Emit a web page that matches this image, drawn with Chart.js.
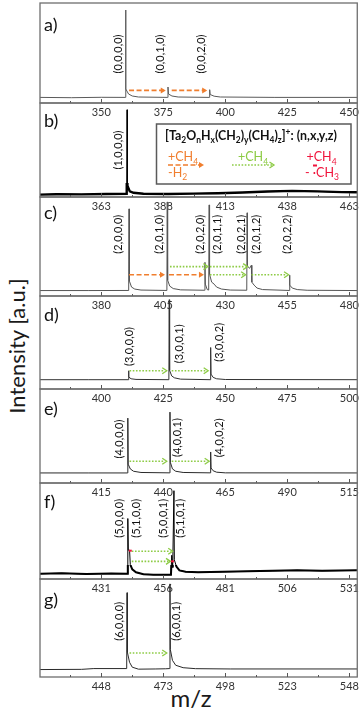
<!DOCTYPE html>
<html>
<head>
<meta charset="utf-8">
<script src="https://cdn.jsdelivr.net/npm/chart.js@4.4.1/dist/chart.umd.min.js"></script>
<style>
  html, body { margin: 0; padding: 0; background: #fff; }
  #wrap { position: relative; width: 362px; height: 714px; overflow: hidden; background: #fff; }
  #wrap canvas { position: absolute; left: 0; }
  .title { position: absolute; font-family: Lato, sans-serif; color: #1a1a1a; white-space: nowrap; line-height: 1; }
  #ytitle { left: 17px; top: 346px; font-size: 22px; transform: translate(-50%, -50%) rotate(-90deg); }
  #xtitle { left: 191px; top: 686px; font-size: 24px; transform: translateX(-50%); }
</style>
</head>
<body>
<div id="wrap">
  <div id="ytitle" class="title">Intensity [a.u.]</div>
  <div id="xtitle" class="title">m/z</div>
</div>
<script>
// --- données (m/z, intensité en % de la hauteur du panneau) ---
const panelNames = ['a)', 'b)', 'c)', 'd)', 'e)', 'f)', 'g)'];

const ticksA = [350, 375, 400, 425, 450];
const ticksB = [363, 388, 413, 438, 463];
const ticksC = [380, 405, 430, 455, 480];
const ticksD = [400, 425, 450, 475, 500];
const ticksE = [415, 440, 465, 490, 515];
const ticksF = [431, 456, 481, 506, 531];
const ticksG = [448, 473, 498, 523, 548];

const xMins = [325.3, 338.3, 355.3, 375.3, 390.3, 406.3, 423.3];
const xMaxs = [453.2, 466.2, 483.2, 503.2, 518.2, 534.2, 551.2];

const specA = [[325.3,5.6],[338,5.3],[350,5.7],[359.65,5.6],[359.8,93],[359.95,14],[361,9],[362.5,7],[365,6],[376.75,5.6],[376.9,16],[377.1,9],[378.5,7],[381,6],[393.55,5.6],[393.7,13.3],[393.9,8.5],[395.5,6.8],[398,6],[420,5.6],[453.2,5.6]];
const specB = [[338.3,2.5],[345,3],[355,2.8],[365,3.2],[373.25,3.5],[373.4,92.8],[373.55,12],[374.5,6],[376,4.5],[380,3.5],[390,3.2],[400,3.6],[410,4],[420,4.8],[430,5.8],[440,6.5],[450,6],[460,5.2],[466.2,5]];
const specC = [[355.3,5.5],[375,5.5],[391.05,5.6],[391.2,88],[391.35,15],[392.2,9],[393.5,7],[396,6],[406.45,5.6],[406.6,95],[406.75,16],[407.6,10],[409,7.5],[412,6.2],[421.65,5.8],[421.8,34],[421.95,12],[422.7,6.5],[423.3,6],[423.5,92],[423.65,22],[424.5,14],[425.5,12],[426.5,9],[428.5,7],[432,6],[438.65,5.8],[438.8,84],[438.95,30],[439.8,28],[440.5,31],[440.7,14],[441.6,11],[442.8,8],[445,6.5],[455.75,5.6],[455.9,21],[456.05,11],[457,8],[459,6.5],[463,5.8],[483.2,5.5]];
const specD = [[375.3,10],[395,10],[410.85,10],[411.0,19.6],[411.15,13],[412,11],[414,10.3],[427.25,10],[427.4,96],[427.55,20],[428.4,14],[429.5,12],[432,10.6],[443.95,10],[444.1,44.6],[444.25,16],[445.1,12.5],[446.5,11],[450,10.2],[503.2,10]];
const specE = [[390.3,10.7],[410,10.7],[425.55,10.7],[425.7,69],[425.85,20],[426.7,15],[428,12.5],[431,11.2],[442.55,10.8],[442.7,75.4],[442.85,22],[443.7,15],[445,12.5],[448,11.2],[458.95,10.8],[459.1,33],[459.25,16],[460.1,13],[461.5,11.5],[465,10.8],[518.2,10.7]];
const specF = [[406.3,5.5],[415,6],[425,5.2],[435,5.8],[441.55,5.5],[441.7,63],[441.9,30],[442.4,30],[442.7,15],[443.5,10],[445,7],[448,5],[452,4.5],[459.1,4.5],[459.4,24.7],[459.8,12],[460.3,92],[460.45,20],[461.3,13],[462.5,9],[465,7.5],[470,7],[480,7.5],[490,8],[500,8.5],[510,9],[520,8.5],[534.2,9]];
const specG = [[423.3,7.6],[440,7.8],[445,8.6],[458.25,8.6],[458.4,86],[458.55,25],[459.4,15],[460.5,10],[463,8],[470,8.2],[474,8.4],[475.55,8.6],[475.7,95],[475.85,28],[476.7,17],[478,12],[481,9.5],[486,8.5],[500,8.2],[551.2,8.2]];

// étiquettes des pics: [texte, m/z du centre, hauteur %]
const labA = [['(0,0,0,0)',356.9,49],['(0,0,1,0)',374.0,49],['(0,0,2,0)',390.4,49]];
const labB = [['(1,0,0,0)',369.9,50]];
const labC = [['(2,0,0,0)',387.1,62.4],['(2,0,1,0)',403.5,62.4],['(2,0,2,0)',420.1,62.4],['(2,0,1,1)',426.9,62.4],['(2,0,2,1)',436.5,62.4],['(2,0,1,2)',442.5,62.4],['(2,0,2,2)',454.9,62.4]];
const labD = [['(3,0,0,0)',411.4,45.7],['(3,0,0,1)',431.7,48.6],['(3,0,0,2)',447.8,50.2]];
const labE = [['(4,0,0,0)',422.3,46.8],['(4,0,0,1)',445.8,48.4],['(4,0,0,2)',462.8,48]];
const labF = [['(5,0,0,0)',438.2,63.2],['(5,1,0,0)',445.3,63.2],['(5,0,0,1)',456.1,63.2],['(5,1,0,1)',463.1,63.2]];
const labG = [['(6,0,0,0)',455.2,56.8],['(6,0,0,1)',478.4,56.8]];

// flèches: [type, m/z début, m/z fin, hauteur %]  o = +CH4 -H2, g = +CH4
const arrA = [['o',361.2,376.0,12.6],['o',378.4,392.7,12.6]];
const arrB = [];
const arrC = [['o',391.2,405.7,21.5],['o',407.3,421.4,21.5],['g',407.7,423.0,29.7],['g',423.8,439.0,29.7],['g',423.8,438.2,21.5],['g',440.6,455.5,21.5]];
const arrD = [['g',411.4,426.4,19.6],['g',428.4,443.1,19.6]];
const arrE = [['g',426.4,441.4,23.2],['g',443.4,458.5,23.2]];
const arrF = [['g',443.3,459.8,28.9],['g',443.3,458.9,18.4]];
const arrG = [['g',459.4,474.4,24.5]];

// marques rouges (+CH4 - ·CH3) dans f)
const redF = [[442.1,443.3,29.5],[459.1,460.3,18.4]];

// --- mise en page ---
const edges = [3, 103, 197, 296, 389, 483, 579, 677];
const letterY = [22, 18, 16, 19, 20, 19, 21];
const lineColors = ['#5a5a5a', '#000', '#555', '#333', '#2a2a2a', '#000', '#2a2a2a'];
const noiseWidths = [0, 2.4, 0, 0, 0, 2, 0];  // fond bruité épais (b, f)
const noiseBand = 14;                          // hauteur en px de la bande épaisse

const ORANGE = '#F07E2E';
const GREEN = '#8DCB45';
const RED = '#F0143C';

const tickLists = [ticksA, ticksB, ticksC, ticksD, ticksE, ticksF, ticksG];
const specs = [specA, specB, specC, specD, specE, specF, specG];
const labels = [labA, labB, labC, labD, labE, labF, labG];
const arrows = [arrA, arrB, arrC, arrD, arrE, arrF, arrG];

function vText(ctx, txt, x, y) {
    ctx.save();
    ctx.translate(x, y);
    ctx.rotate(-Math.PI / 2);
    ctx.textAlign = 'center';
    ctx.textBaseline = 'middle';
    ctx.font = '11px Lato';
    ctx.fillStyle = '#111';
    ctx.fillText(txt, 0, 0);
    ctx.restore();
}

function drawArrow(ctx, x1, x2, y, kind) {
    const col = kind === 'o' ? ORANGE : GREEN;
    ctx.save();
    ctx.strokeStyle = col;
    ctx.fillStyle = col;
    ctx.lineWidth = 1.6;
    ctx.setLineDash(kind === 'o' ? [5, 2.5] : [1.6, 1.6]);
    ctx.beginPath();
    ctx.moveTo(x1, y);
    ctx.lineTo(x2 - 2, y);
    ctx.stroke();
    ctx.setLineDash([]);
    ctx.beginPath();
    if (kind === 'o') {
        ctx.moveTo(x2, y); ctx.lineTo(x2 - 5, y - 3); ctx.lineTo(x2 - 5, y + 3); ctx.closePath(); ctx.fill();
    } else {
        ctx.lineWidth = 1.3;
        ctx.moveTo(x2 - 4.5, y - 3); ctx.lineTo(x2, y); ctx.lineTo(x2 - 4.5, y + 3); ctx.stroke();
    }
    ctx.restore();
}

// texte avec indices / exposants
function richText(ctx, runs, x, y, size, weight, color) {
    let cx = x;
    ctx.fillStyle = color;
    ctx.textAlign = 'left';
    ctx.textBaseline = 'alphabetic';
    runs.forEach(([t, mode]) => {
        const fs = mode ? size * 0.68 : size;
        ctx.font = `${weight} ${fs}px Lato`;
        const dy = mode === 'sub' ? size * 0.28 : mode === 'sup' ? -size * 0.4 : 0;
        ctx.fillText(t, cx, y + dy);
        cx += ctx.measureText(t).width;
    });
    return cx - x;
}

function measureRuns(ctx, runs, size, weight) {
    let w = 0;
    runs.forEach(([t, mode]) => {
        ctx.font = `${weight} ${mode ? size * 0.68 : size}px Lato`;
        w += ctx.measureText(t).width;
    });
    return w;
}

const legendTitle = [['[Ta',''],['2','sub'],['O',''],['n','sub'],['H',''],['x','sub'],['(CH',''],['2','sub'],[')',''],['y','sub'],['(CH',''],['4','sub'],[')',''],['z','sub'],[']',''],['+','sup'],[': (n,x,y,z)','']];
const plusCH4 = [['+CH',''],['4','sub']];
const minusH2 = [['-H',''],['2','sub']];
const minusCH3 = [['- ·CH',''],['3','sub']];

function drawLegend(ctx, offY) {
    ctx.save();
    ctx.translate(0, -offY);
    ctx.fillStyle = '#fff';
    ctx.fillRect(156.5, 124, 194.5, 60);
    ctx.strokeStyle = '#5a5a5a';
    ctx.lineWidth = 1.5;
    ctx.strokeRect(156.5, 124, 194.5, 60);
    const w12 = measureRuns(ctx, legendTitle, 12, 'bold');
    richText(ctx, legendTitle, 165, 140, 12 * 172 / w12, 'bold', '#111');
    richText(ctx, plusCH4, 168, 161, 12.5, 'normal', ORANGE);
    drawArrow(ctx, 168, 204, 165, 'o');
    richText(ctx, minusH2, 168, 176.5, 12.5, 'normal', ORANGE);
    richText(ctx, plusCH4, 238, 161, 12.5, 'normal', GREEN);
    drawArrow(ctx, 232, 274, 165, 'g');
    richText(ctx, plusCH4, 306.5, 161, 12.5, 'normal', RED);
    ctx.fillStyle = RED;
    ctx.fillRect(313, 164.5, 4, 2);
    richText(ctx, minusCH3, 305, 176.5, 12.5, 'normal', RED);
    ctx.restore();
}

function decor(i, canvasTop) {
    return {
        id: 'decor' + i,
        afterDatasetsDraw(chart) {
            const ctx = chart.ctx;
            const ca = chart.chartArea;
            const xs = chart.scales.x;
            const ys = chart.scales.y;
            ctx.save();
            // cadre
            ctx.strokeStyle = '#6e6e6e';
            ctx.lineWidth = 1.3;
            ctx.strokeRect(ca.left, ca.top, ca.right - ca.left, ca.bottom - ca.top);
            // graduations vers l'intérieur
            ctx.lineWidth = 1;
            ctx.strokeStyle = '#555';
            tickLists[i].forEach(v => {
                [v - 12.5, v, v + 12.5].forEach((t, k) => {
                    if (t <= xMins[i] || t >= xMaxs[i]) return;
                    const px = Math.round(xs.getPixelForValue(t)) + 0.5;
                    ctx.beginPath();
                    ctx.moveTo(px, ca.bottom);
                    ctx.lineTo(px, ca.bottom - (k === 1 ? 4 : 2));
                    ctx.stroke();
                });
            });
            // lettre du panneau
            ctx.fillStyle = '#111';
            ctx.font = '18px Lato';
            ctx.textAlign = 'left';
            ctx.textBaseline = 'middle';
            ctx.fillText(panelNames[i], 44, ca.top + letterY[i]);
            // flèches
            arrows[i].forEach(([kind, x1, x2, y]) => {
                drawArrow(ctx, xs.getPixelForValue(x1), xs.getPixelForValue(x2), ys.getPixelForValue(y), kind);
            });
            if (i === 5) {
                ctx.fillStyle = RED;
                redF.forEach(([x1, x2, y]) => {
                    const a = xs.getPixelForValue(x1), b = xs.getPixelForValue(x2);
                    ctx.fillRect(a, ys.getPixelForValue(y) - 1, b - a, 2);
                });
            }
            // étiquettes des pics
            labels[i].forEach(([t, x, y]) => vText(ctx, t, xs.getPixelForValue(x), ys.getPixelForValue(y)));
            if (i === 1) drawLegend(ctx, canvasTop);
            ctx.restore();
        }
    };
}

Chart.defaults.font.family = 'Lato';
const wrap = document.getElementById('wrap');

specs.forEach((spec, i) => {
    const top = edges[i] - 2;
    const panelH = edges[i + 1] - edges[i];
    const h = panelH + 2 + 16;
    const cv = document.createElement('canvas');
    cv.width = 362;
    cv.height = h;
    cv.style.top = top + 'px';
    wrap.appendChild(cv);

    const pts = spec.map(p => ({ x: p[0], y: p[1] }));
    const datasets = [{
        data: pts,
        borderColor: lineColors[i],
        borderWidth: 1,
        pointRadius: 0,
        tension: 0,
        fill: false
    }];
    // même spectre, trait épais limité au bas du panneau (bruit de fond)
    if (noiseWidths[i]) {
        datasets.push({
            data: pts,
            borderColor: lineColors[i],
            borderWidth: noiseWidths[i],
            pointRadius: 0,
            tension: 0,
            fill: false,
            clip: { left: 0, right: 0, bottom: 0, top: -(panelH - noiseBand) }
        });
    }

    new Chart(cv.getContext('2d'), {
        type: 'line',
        data: { datasets },
        options: {
            responsive: false,
            animation: false,
            events: [],
            layout: { padding: { left: 40, right: 4, top: 2, bottom: 0 } },
            plugins: { legend: { display: false }, tooltip: { enabled: false } },
            scales: {
                x: {
                    type: 'linear',
                    min: xMins[i],
                    max: xMaxs[i],
                    grid: { display: false, drawTicks: false },
                    border: { display: false },
                    ticks: { font: { family: 'Lato', size: 11 }, color: '#333', padding: 3, maxRotation: 0, autoSkip: false },
                    afterBuildTicks: s => { s.ticks = tickLists[i].map(v => ({ value: v })); },
                    afterFit: s => { s.height = 16; }
                },
                y: { display: false, min: 0, max: 100 }
            }
        },
        plugins: [decor(i, top)]
    });
});
</script>
</body>
</html>
